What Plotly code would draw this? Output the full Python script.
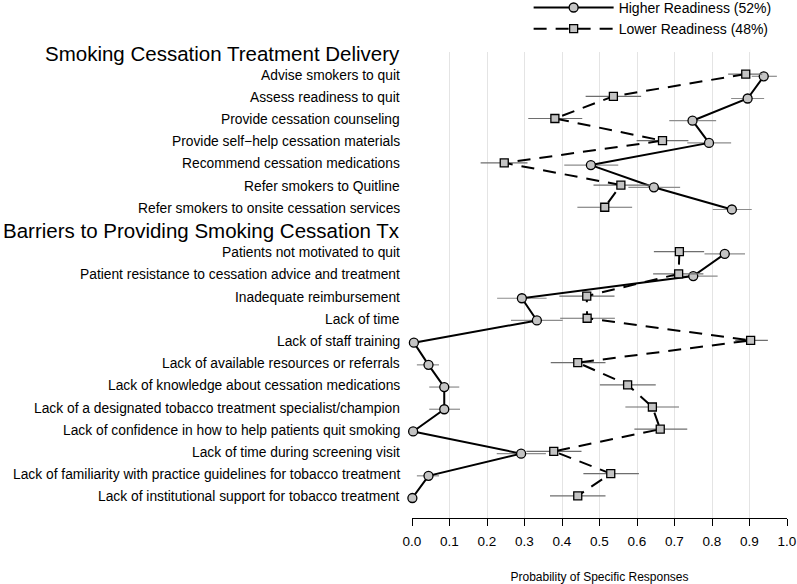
import plotly.graph_objects as go

# section headers and row labels
header_delivery = "Smoking Cessation Treatment Delivery"
header_barriers = "Barriers to Providing Smoking Cessation Tx"

delivery_items = [
    "Advise smokers to quit",
    "Assess readiness to quit",
    "Provide cessation counseling",
    "Provide self\u2212help cessation materials",
    "Recommend cessation medications",
    "Refer smokers to Quitline",
    "Refer smokers to onsite cessation services",
]
barrier_items = [
    "Patients not motivated to quit",
    "Patient resistance to cessation advice and treatment",
    "Inadequate reimbursement",
    "Lack of time",
    "Lack of staff training",
    "Lack of available resources or referrals",
    "Lack of knowledge about cessation medications",
    "Lack of a designated tobacco treatment specialist/champion",
    "Lack of confidence in how to help patients quit smoking",
    "Lack of time during screening visit",
    "Lack of familiarity with practice guidelines for tobacco treatment",
    "Lack of institutional support for tobacco treatment",
]

# Higher readiness (52%): estimate, lower CI, upper CI
high_delivery = [0.938, 0.895, 0.748, 0.792, 0.477, 0.645, 0.853]
high_delivery_lo = [0.906, 0.851, 0.686, 0.734, 0.406, 0.577, 0.802]
high_delivery_hi = [0.973, 0.939, 0.811, 0.851, 0.550, 0.715, 0.906]
high_barriers = [0.834, 0.750, 0.293, 0.333, 0.005, 0.044, 0.086, 0.086, 0.003, 0.291, 0.044, 0.001]
high_barriers_lo = [0.780, 0.692, 0.227, 0.264, 0.0, 0.013, 0.046, 0.046, 0.0, 0.226, 0.013, 0.0]
high_barriers_hi = [0.888, 0.815, 0.359, 0.402, 0.02, 0.072, 0.126, 0.128, 0.01, 0.357, 0.072, 0.005]

# Lower readiness (48%)
low_delivery = [0.890, 0.537, 0.381, 0.668, 0.246, 0.557, 0.514]
low_delivery_lo = [0.843, 0.463, 0.310, 0.599, 0.183, 0.484, 0.441]
low_delivery_hi = [0.934, 0.611, 0.454, 0.737, 0.308, 0.635, 0.587]
low_barriers = [0.713, 0.711, 0.466, 0.467, 0.903, 0.442, 0.575, 0.641, 0.662, 0.378, 0.530, 0.442]
low_barriers_lo = [0.645, 0.643, 0.393, 0.395, 0.862, 0.370, 0.501, 0.569, 0.593, 0.305, 0.457, 0.368]
low_barriers_hi = [0.779, 0.777, 0.540, 0.541, 0.949, 0.516, 0.650, 0.712, 0.734, 0.452, 0.605, 0.516]

x_ticks = [0.0, 0.1, 0.2, 0.3, 0.4, 0.5, 0.6, 0.7, 0.8, 0.9, 1.0]

FONT = "Arial, Liberation Sans, sans-serif"

# row positions: header, items, header, items (top to bottom)
rows_delivery = list(range(1, 1 + len(delivery_items)))
row_barrier_header = 1 + len(delivery_items)
rows_barriers = list(range(row_barrier_header + 1, row_barrier_header + 1 + len(barrier_items)))


def series(d, b, d_lo, b_lo, d_hi, b_hi, shift):
    # None breaks the line between the two sections
    x = d + [None] + b
    y = [r + shift for r in rows_delivery] + [None] + [r + shift for r in rows_barriers]
    lo = d_lo + [None] + b_lo
    hi = d_hi + [None] + b_hi
    minus = [None if v is None else v - l for v, l in zip(x, lo)]
    plus = [None if v is None else h - v for v, h in zip(x, hi)]
    return x, y, minus, plus


fig = go.Figure()

hx, hy, hm, hp = series(high_delivery, high_barriers, high_delivery_lo, high_barriers_lo,
                        high_delivery_hi, high_barriers_hi, 0.05)
lx, ly, lm, lp = series(low_delivery, low_barriers, low_delivery_lo, low_barriers_lo,
                        low_delivery_hi, low_barriers_hi, -0.05)

fig.add_trace(go.Scatter(
    x=hx, y=hy, mode="lines+markers", name="Higher Readiness (52%)", legendgroup="hi",
    line=dict(color="black", width=2),
    marker=dict(symbol="circle", size=9, color="#c4c4c4", line=dict(color="black", width=1.3)),
    error_x=dict(type="data", symmetric=False, array=hp, arrayminus=hm,
                 color="#8c8c8c", thickness=1.2, width=0),
))
fig.add_trace(go.Scatter(
    x=lx, y=ly, mode="lines+markers", name="Lower Readiness (48%)", legendgroup="lo",
    line=dict(color="black", width=2, dash="13px,9px"),
    marker=dict(symbol="square", size=8, color="#c4c4c4", line=dict(color="black", width=1.3)),
    error_x=dict(type="data", symmetric=False, array=lp, arrayminus=lm,
                 color="#6e6e6e", thickness=1.2, width=0),
))

annotations = []
for row, text in [(0, header_delivery), (row_barrier_header, header_barriers)]:
    annotations.append(dict(x=0, xref="paper", y=row, yref="y", text=text, showarrow=False,
                            xanchor="right", xshift=-10, font=dict(size=20.5, color="black", family=FONT)))
for row, text in zip(rows_delivery + rows_barriers, delivery_items + barrier_items):
    annotations.append(dict(x=0, xref="paper", y=row, yref="y", text=text, showarrow=False,
                            xanchor="right", xshift=-10, font=dict(size=13.8, color="black", family=FONT)))

fig.update_layout(
    width=797, height=584,
    margin=dict(l=412, r=10, t=52, b=66, autoexpand=False),
    plot_bgcolor="white", paper_bgcolor="white",
    font=dict(family=FONT, size=13, color="black"),
    annotations=annotations,
    showlegend=True,
    legend=dict(x=0.311, y=1.129, xanchor="left", yanchor="top", itemwidth=80,
                font=dict(size=14, color="black"), bgcolor="rgba(0,0,0,0)",
                tracegroupgap=0),
)
fig.update_xaxes(
    range=[0, 1], tickvals=x_ticks, ticktext=["%.1f" % v for v in x_ticks],
    showgrid=True, gridcolor="#e4e4e4", gridwidth=1, zeroline=False,
    showline=True, linecolor="black", linewidth=1.2,
    ticks="outside", ticklen=7, tickcolor="black", tickwidth=1.2,
    tickfont=dict(size=13.5), ticklabelstandoff=4,
    title=dict(text="Probability of Specific Responses", font=dict(size=12), standoff=26),
)
fig.update_yaxes(range=[20.95, -0.045], showgrid=False, zeroline=False, showticklabels=False,
                 showline=False, ticks="")
fig.update_traces(cliponaxis=False)

# drop the browser's default 8px body margin so the figure sits at the page corner
fig.write_html("out.html", config={"displayModeBar": False},
               post_script="document.body.style.margin='0';")
